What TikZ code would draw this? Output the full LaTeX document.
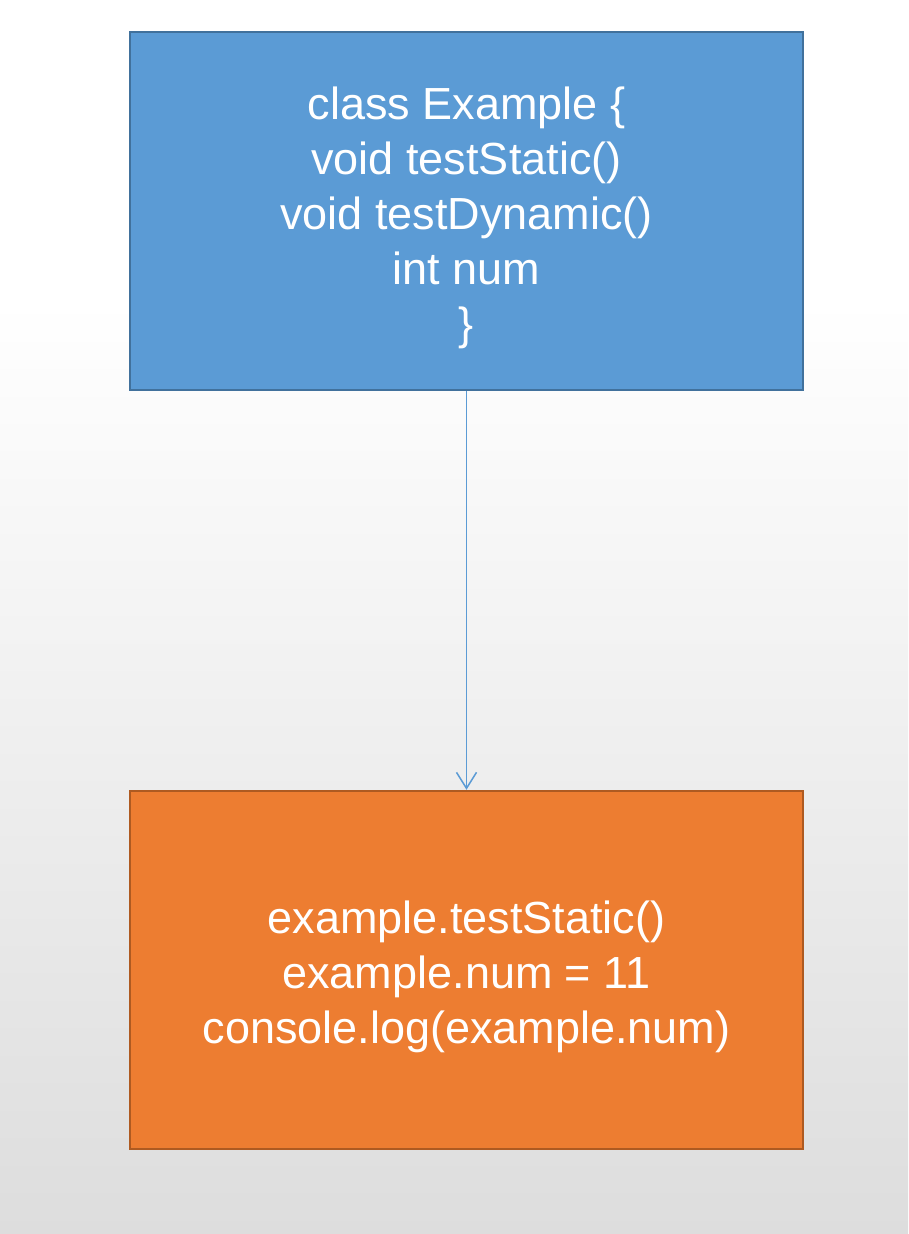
\documentclass[tikz,border=0pt]{standalone}
\usepackage{fontspec}
\setmainfont{Liberation Sans}
\usetikzlibrary{arrows.meta}
\definecolor{bluefill}{HTML}{5B9BD5}
\definecolor{blueline}{HTML}{41719C}
\definecolor{orangefill}{HTML}{ED7D31}
\definecolor{orangeline}{HTML}{AE5A21}
\definecolor{bgbottom}{HTML}{DDDDDD}
\tikzset{
  box/.style={minimum width=673pt, minimum height=358pt, line width=2.5pt, inner sep=0pt},
  boxtext/.style={text=white, align=center, inner sep=0pt, yshift=-7pt,
    font=\fontsize{45pt}{55pt}\selectfont},
  bluebox/.style={box, draw=blueline, fill=bluefill},
  orangebox/.style={box, draw=orangeline, fill=orangefill},
  conn/.style={draw=bluefill, line width=1.5pt, -{Straight Barb[length=16pt,width=20pt,line width=1.5pt]}}
}
\begin{document}
\begin{tikzpicture}[x=1pt,y=-1pt]
\useasboundingbox (0,0) rectangle (908,1234);
\fill[white] (0,0) rectangle (908,300);
\shade[top color=white, bottom color=bgbottom] (0,300) rectangle (908,1234);
\node[bluebox, label={[boxtext]center:class Example \{\\void testStatic()\\void testDynamic()\\int num\\\}}] (cls) at (466.5,211) {};
\node[orangebox, label={[boxtext]center:example.testStatic()\\example.num = 11\\console.log(example.num)}] (use) at (466.5,970) {};
\draw[conn] (cls.south) -- (use.north);
\end{tikzpicture}
\end{document}
